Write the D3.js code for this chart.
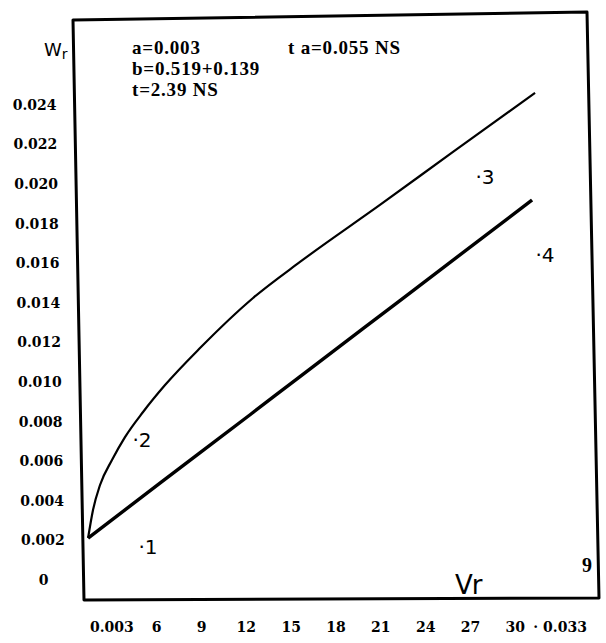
<!DOCTYPE html>
<html>
<head>
<meta charset="utf-8">
<script src="https://cdn.jsdelivr.net/npm/d3@7/dist/d3.min.js"></script>
<style>
  html, body { margin: 0; padding: 0; background: #fff; }
  svg { display: block; }
</style>
</head>
<body>
<script>
// ---------------- data ----------------
const xTicks = [0.003, 0.006, 0.009, 0.012, 0.015, 0.018, 0.021, 0.024, 0.027, 0.030, 0.033];
const xTickLabels = ["0.003", "6", "9", "12", "15", "18", "21", "24", "27", "30", "· 0.033"];
const yTicks = [0, 0.002, 0.004, 0.006, 0.008, 0.010, 0.012, 0.014, 0.016, 0.018, 0.020, 0.022, 0.024];
const yTickLabels = ["0", "0.002", "0.004", "0.006", "0.008", "0.010", "0.012", "0.014", "0.016", "0.018", "0.020", "0.022", "0.024"];

// upper curve (Vr, Wr)
const curveVr = [0.00141, 0.00174, 0.00221, 0.00301, 0.00388, 0.00509, 0.00656, 0.00890, 0.01245, 0.01559, 0.02094, 0.02583, 0.03132];
const curveWr = [0.00212, 0.00354, 0.00480, 0.00606, 0.00722, 0.00849, 0.00985, 0.01172, 0.01425, 0.01607, 0.01895, 0.02163, 0.02461];
// lower (thick) line
const lineVr = [0.00141, 0.00622, 0.01225, 0.01559, 0.02228, 0.03112];
const lineWr = [0.00212, 0.00489, 0.00835, 0.01028, 0.01412, 0.01920];

// point labels (Vr, Wr, text)
const markVr = [0.00542, 0.00502, 0.02797, 0.03198];
const markWr = [0.00167, 0.00707, 0.02036, 0.01642];
const markText = ["·1", "·2", "·3", "·4"];

const statsLeft = ["a=0.003", "b=0.519+0.139", "t=2.39 NS"];
const statsRight = ["t a=0.055 NS"];

// ---------------- layout ----------------
const W = 606, H = 643;
const frame = { tl: [73, 20], tr: [587, 12], br: [599, 598], bl: [84, 600] };
const frameLeftAt = yy => frame.tl[0] + (yy - frame.tl[1]) * (frame.bl[0] - frame.tl[0]) / (frame.bl[1] - frame.tl[1]);

const x = d3.scaleLinear().domain([0, 0.036]).range([67, 605]);
const y = d3.scaleLinear().domain([0, 0.024]).range([580, 105]);

const svg = d3.select("body").append("svg")
  .attr("width", W).attr("height", H)
  .style("font-family", "'Liberation Serif', 'DejaVu Serif', serif");

svg.append("rect").attr("width", W).attr("height", H).attr("fill", "#fff");

// frame
svg.append("path")
  .attr("d", `M${frame.tl} L${frame.tr} L${frame.br} L${frame.bl} Z`)
  .attr("fill", "none")
  .attr("stroke", "#000")
  .attr("stroke-width", 3)
  .attr("stroke-linejoin", "round");

// y tick labels
svg.append("g").selectAll("text")
  .data(yTicks)
  .join("text")
  .attr("x", d => frameLeftAt(y(d)) - 40)
  .attr("y", d => y(d))
  .attr("dy", "0.35em")
  .attr("text-anchor", "middle")
  .attr("font-family", "'DejaVu Serif', serif")
  .attr("font-weight", "bold")
  .attr("font-size", 14)
  .text((d, i) => yTickLabels[i]);

// x tick labels
svg.append("g").selectAll("text")
  .data(xTicks)
  .join("text")
  .attr("x", d => x(d))
  .attr("y", 627)
  .attr("dy", "0.35em")
  .attr("text-anchor", "middle")
  .attr("font-family", "'DejaVu Serif', serif")
  .attr("font-weight", "bold")
  .attr("font-size", 14)
  .text((d, i) => xTickLabels[i]);

// curves
const line = d3.line().x(d => x(d[0])).y(d => y(d[1])).curve(d3.curveMonotoneX);
svg.append("path")
  .datum(curveVr.map((v, i) => [v, curveWr[i]]))
  .attr("d", line)
  .attr("fill", "none").attr("stroke", "#000").attr("stroke-width", 2.2);
svg.append("path")
  .datum(lineVr.map((v, i) => [v, lineWr[i]]))
  .attr("d", line)
  .attr("fill", "none").attr("stroke", "#000").attr("stroke-width", 3.4);

// point labels
svg.append("g").selectAll("text")
  .data(markText)
  .join("text")
  .attr("x", (d, i) => x(markVr[i]))
  .attr("y", (d, i) => y(markWr[i]))
  .attr("dy", "0.35em")
  .attr("text-anchor", "middle")
  .attr("font-family", "'DejaVu Sans', sans-serif")
  .attr("font-size", 20)
  .text(d => d);

// stats text
svg.append("g").selectAll("text")
  .data(statsLeft)
  .join("text")
  .attr("x", 132)
  .attr("y", (d, i) => 54 + i * 21)
  .attr("font-weight", "bold")
  .attr("font-size", 19)
  .attr("letter-spacing", 0.8)
  .text(d => d);

svg.append("g").selectAll("text")
  .data(statsRight)
  .join("text")
  .attr("x", 288)
  .attr("y", 54)
  .attr("font-weight", "bold")
  .attr("font-size", 19)
  .attr("letter-spacing", 0.8)
  .text(d => d);

// axis titles
const wr = svg.append("text")
  .attr("x", 44).attr("y", 56)
  .attr("font-family", "'DejaVu Sans', sans-serif")
  .attr("font-size", 18);
wr.append("tspan").text("W");
wr.append("tspan").attr("font-size", 14).attr("dy", 3).text("r");

svg.append("text")
  .attr("x", 455).attr("y", 594)
  .attr("font-family", "'DejaVu Sans', sans-serif")
  .attr("font-size", 26)
  .attr("letter-spacing", -1)
  .text("Vr");

svg.append("text")
  .attr("x", 582).attr("y", 572)
  .attr("font-weight", "bold")
  .attr("font-size", 20)
  .text("9");
</script>
</body>
</html>
